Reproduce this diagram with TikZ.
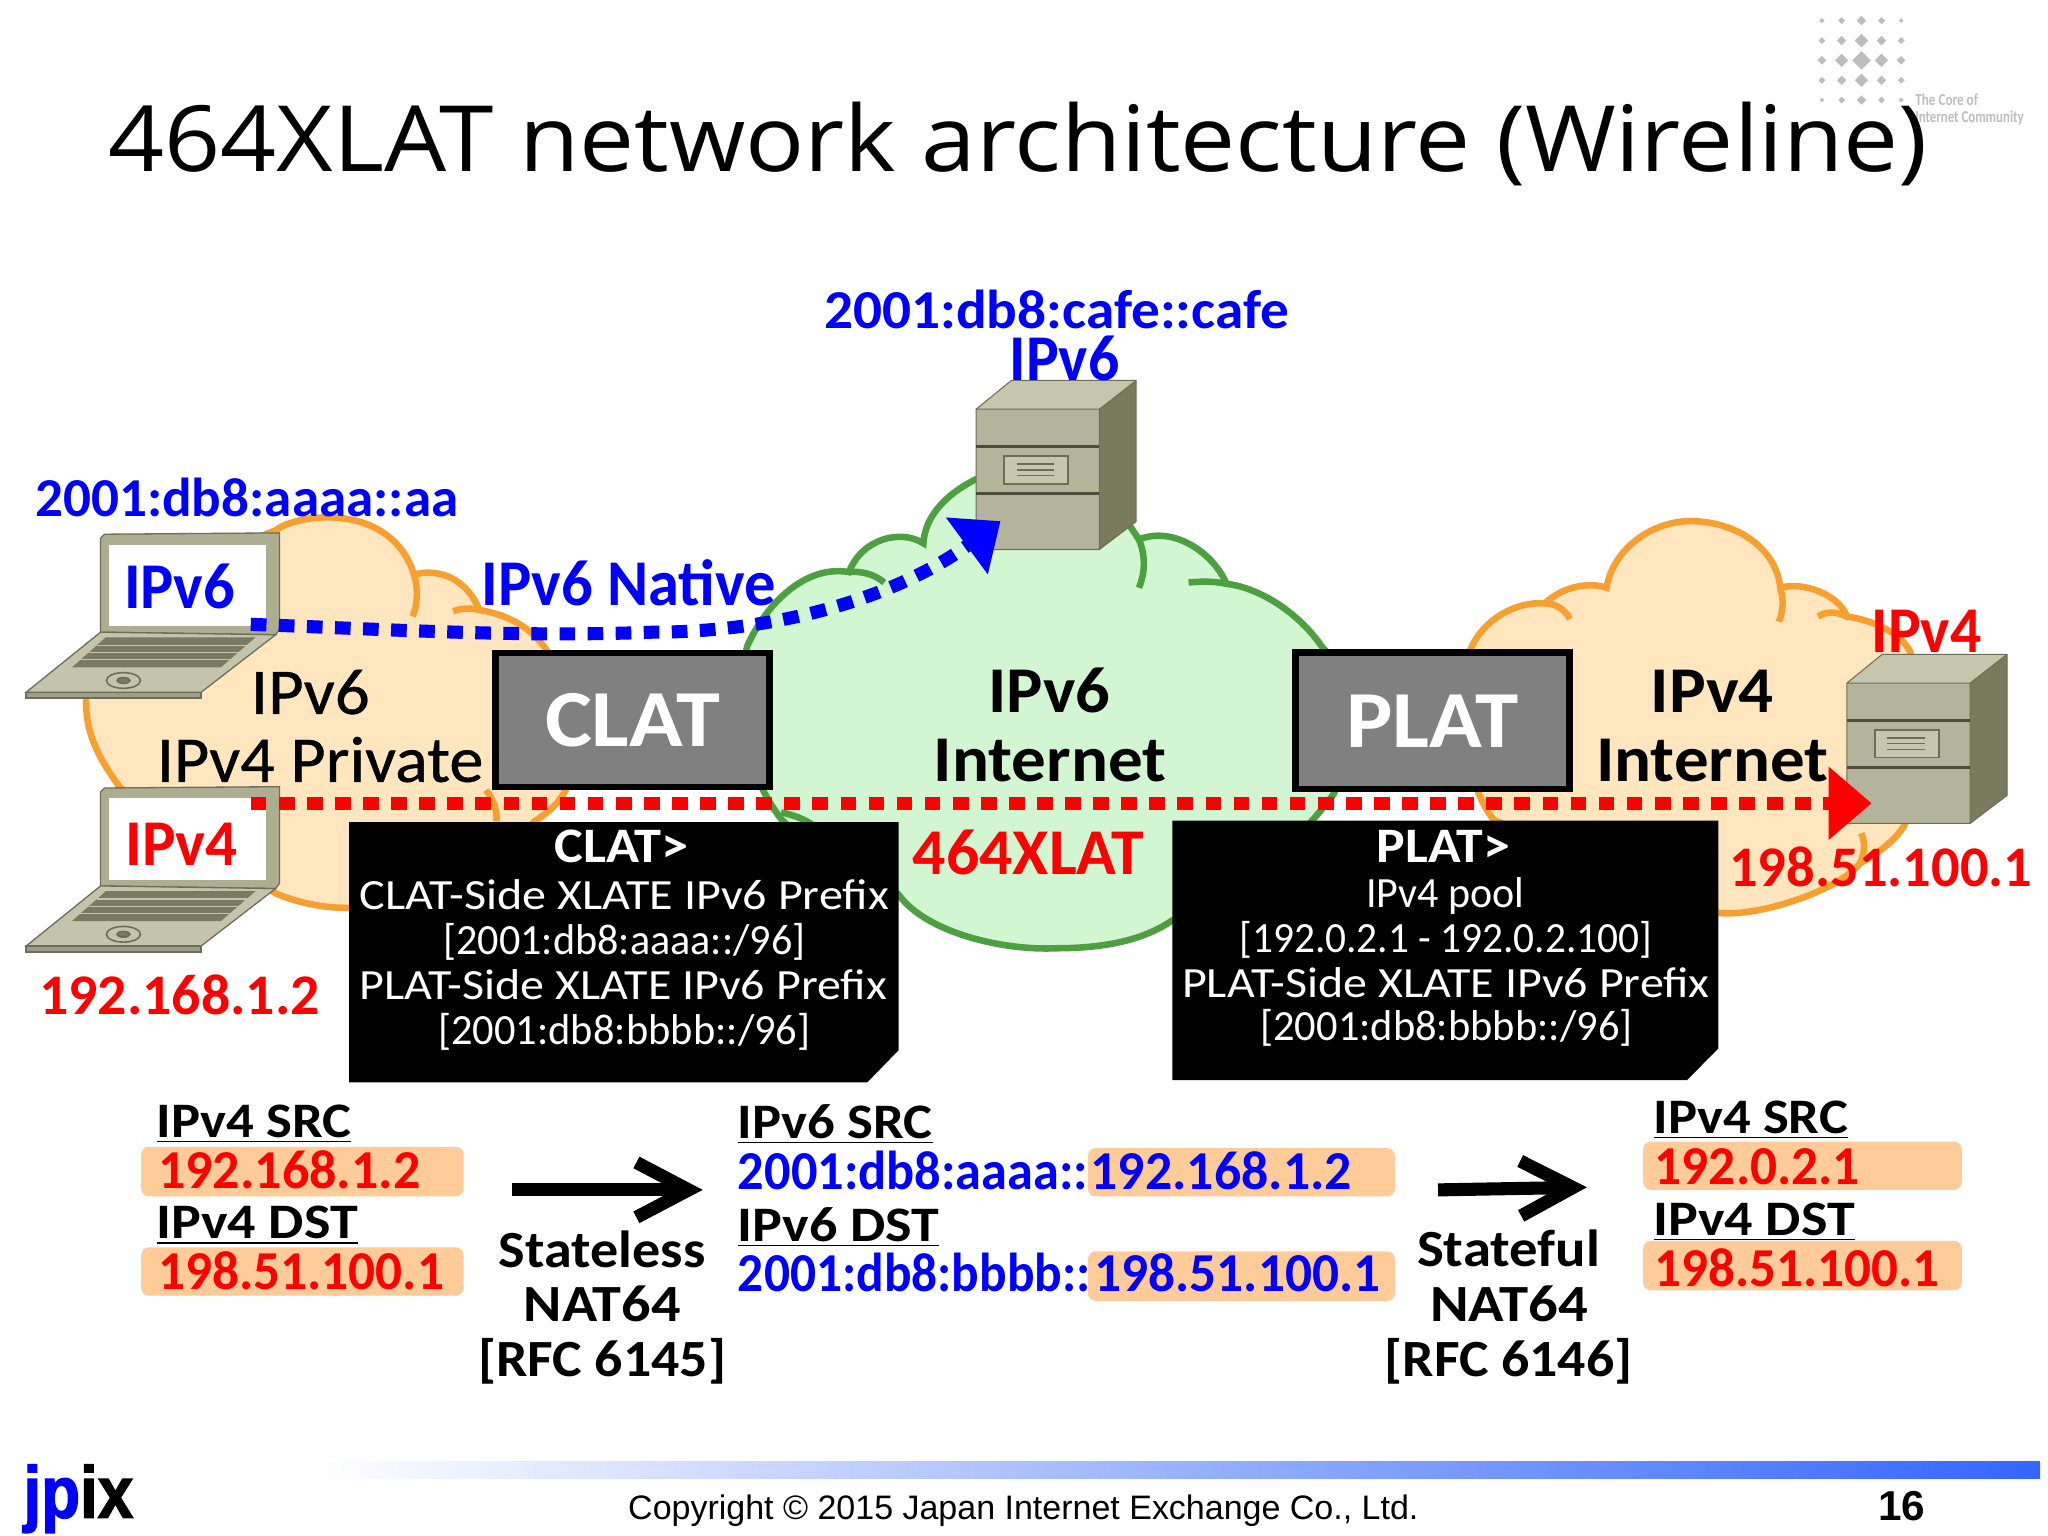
\documentclass[tikz,border=0pt]{standalone}
\usepackage{fontspec}
\usepackage{graphicx}
\setmainfont{Carlito}
\newfontfamily\titlef{Open Sans}
\newfontfamily\arialf{Liberation Sans}
\newfontfamily\medf[FakeBold=0.6]{Carlito}
\newfontfamily\heavyf[FakeBold=2]{Liberation Sans Bold}
\usetikzlibrary{arrows.meta}
\definecolor{cloudO}{HTML}{F7A030}
\definecolor{fillO}{HTML}{FFE6BF}
\definecolor{cloudG}{HTML}{4CA040}
\definecolor{fillG}{HTML}{D2F5D2}
\definecolor{oboxc}{HTML}{FFCC99}
\definecolor{lidc}{HTML}{ADAD92}
\definecolor{basec}{HTML}{C4C4AC}
\definecolor{edgec}{HTML}{6E6E58}
\definecolor{keyc}{HTML}{7A7A60}
\definecolor{srvtop}{HTML}{C6C6AE}
\definecolor{srvfront}{HTML}{B4B49C}
\definecolor{srvside}{HTML}{7A7A5E}
\definecolor{logog}{HTML}{BDBDBD}
\definecolor{barc}{HTML}{3366FF}
\newcommand\W[2]{\resizebox{\dimexpr#1pt/2\relax}{\height}{#2}}
\newcommand\dia[3]{\fill[logog] (#1-#3,#2) -- (#1,#2-#3) -- (#1+#3,#2) -- (#1,#2+#3) -- cycle;}
\tikzset{
  x=0.5pt,y=-0.5pt,
  lab/.style={anchor=base,inner sep=0pt,outer sep=0pt,yshift=-0.8pt,font=\fontsize{#1}{#1}\selectfont\bfseries},
  labr/.style={anchor=base,inner sep=0pt,outer sep=0pt,yshift=-0.8pt,font=\fontsize{#1}{#1}\selectfont},
  labm/.style={anchor=base,inner sep=0pt,outer sep=0pt,yshift=-0.8pt,font=\fontsize{#1}{#1}\selectfont\medf},
  lefty/.style={anchor=base west},
  cloudo/.style={fill=fillO,draw=cloudO,line width=2.5pt},
  cloudg/.style={fill=fillG,draw=cloudG,line width=2.5pt},
  inno/.style={draw=cloudO,line width=2.5pt,fill=none},
  inng/.style={draw=cloudG,line width=2.5pt,fill=none},
  gate/.style={draw=black,line width=2.5pt,fill=gray!100!black,text=white,inner sep=0pt,
     font=\fontsize{31}{31}\selectfont\bfseries},
  dotline/.style={line width=5pt,dash pattern=on 6pt off 4.75pt},
  bigarrow/.style={line width=5pt,-{Straight Barb[length=20pt,width=21pt]}},
  obox/.style={fill=oboxc,rounded corners=3pt},
  laptop/.pic={
    \draw[fill=lidc,draw=edgec,line width=.5pt] (0,2) -- (3,-1) -- (137,-2) -- (137,72) -- (134,76) -- (0,74) -- cycle;
    \fill[white] (6.5,7) rectangle (127,69.5);
    \draw[fill=basec,draw=edgec,line width=.5pt] (0,74) -- (134,76) -- (77,120) -- (-57,120) -- cycle;
    \draw[fill=basec!80!black,draw=edgec,line width=.5pt] (-57,120) -- (77,120) -- (77,124.5) -- (-57,124.5) -- cycle;
    \draw[fill=keyc,draw=none] (4,78) -- (118.6,78) -- (92,101) -- (-22,101) -- cycle;
    \draw[basec,line width=.5pt] (-3,84) -- (112,84) (-9,89.5) -- (106,89.5) (-16,95) -- (99,95);
    \draw[edgec,line width=.6pt] (17.5,111) ellipse (13 and 6);
    \draw[edgec,line width=.6pt,fill=keyc] (17.5,111) ellipse (5 and 2.2);
  },
  server/.pic={
    \fill[srvtop] (0,0) -- (27,-22) -- (122.6,-22) -- (94.4,0) -- cycle;
    \fill[srvfront] (0,0) rectangle (94.4,107.4);
    \fill[srvside] (94.4,0) -- (122.6,-22) -- (122.6,86) -- (94.4,107.4) -- cycle;
    \draw[edgec,line width=.4pt] (0,0) -- (27,-22) -- (122.6,-22) -- (122.6,86) -- (94.4,107.4) -- (0,107.4) -- cycle
      (0,0) -- (94.4,0) -- (122.6,-22) (94.4,0) -- (94.4,107.4);
    \draw[edgec!70!black,line width=.9pt] (0,28.5) -- (94.4,28.5) (0,64.5) -- (94.4,64.5);
    \draw[edgec,line width=.7pt,fill=srvtop] (21.5,36) rectangle (70.5,57);
    \draw[edgec,line width=.5pt] (31,42) -- (60,42) (31,46.5) -- (60,46.5) (31,51) -- (60,51);
  },
}
\begin{document}
\begin{tikzpicture}
\useasboundingbox (0,0) rectangle (1568,1176);
\fill[white] (0,0) rectangle (1568,1176);
% logo
\dia{1394.9}{15.8}{2}\dia{1410}{15.8}{2.6}\dia{1425.2}{15.8}{3.6}\dia{1440.5}{15.8}{2.6}\dia{1455.6}{15.8}{1.8}
\dia{1394.9}{31.1}{2.6}\dia{1410}{31.1}{3.6}\dia{1425.2}{31.1}{5.1}\dia{1440.5}{31.1}{3.6}\dia{1455.6}{31.1}{2.6}
\dia{1394.9}{46.2}{3.3}\dia{1410}{46.2}{5.1}\dia{1425.2}{46.2}{7.1}\dia{1440.5}{46.2}{5.1}\dia{1455.6}{46.2}{3.3}
\dia{1394.9}{61.5}{2.6}\dia{1410}{61.5}{3.6}\dia{1425.2}{61.5}{5.1}\dia{1440.5}{61.5}{3.6}\dia{1455.6}{61.5}{2.6}
\dia{1394.9}{76.6}{1.8}\dia{1410}{76.6}{2.6}\dia{1425.2}{76.6}{3.6}\dia{1440.5}{76.6}{2.6}\dia{1455.6}{76.6}{1.8}
\node (core1) [anchor=base west,inner sep=0pt,font=\fontsize{6.4}{6.4}\selectfont\bfseries,text=logog] at (1466,81) {\W{48}{The Core of}};
\node (core2) [anchor=base west,inner sep=0pt,font=\fontsize{6.4}{6.4}\selectfont\bfseries,text=logog] at (1466,94) {\W{83}{Internet Community}};
% title
\node (title) [anchor=base,inner sep=0pt,font=\fontsize{35}{35}\selectfont\titlef] at (779.5,131) {\W{1393}{464XLAT network architecture (Wireline)}};
% clouds
\path[cloudo] (211,406) .. controls (230,392) and (300,385) .. (317,440)
  .. controls (330,436) and (355,438) .. (367,467)
  .. controls (385,470) and (405,478) .. (418,497)
  .. controls (440,530) and (445,580) .. (433,605)
  .. controls (428,615) and (420,622) .. (409,629)
  .. controls (370,680) and (300,698) .. (263,695)
  .. controls (245,695) and (225,690) .. (211,684)
  -- (92,603)
  .. controls (75,580) and (65,560) .. (66,535)
  .. controls (66,500) and (100,450) .. (211,406) -- cycle;
\path[inno] (317,440) .. controls (320,450) and (320,462) .. (316,472);
\path[inno] (367,467) .. controls (360,465) and (352,466) .. (347,468);
\path[inno] (372,605) .. controls (378,612) and (381,622) .. (380,629);
\path[cloudo] (1126,497) .. controls (1135,475) and (1160,460) .. (1183,462)
  .. controls (1195,450) and (1215,445) .. (1230,450)
  .. controls (1235,420) and (1265,399) .. (1294,399)
  .. controls (1330,399) and (1360,420) .. (1363,450)
  .. controls (1380,445) and (1408,455) .. (1414,472)
  .. controls (1435,475) and (1455,485) .. (1462,498)
  -- (1480,560) -- (1458,632)
  .. controls (1450,645) and (1435,655) .. (1424,661)
  .. controls (1410,680) and (1350,702) .. (1316,699)
  -- (1144,628)
  .. controls (1120,600) and (1115,530) .. (1126,497) -- cycle;
\path[inno] (1183,462) .. controls (1190,462) and (1198,466) .. (1202,474);
\path[inno] (1363,450) .. controls (1366,460) and (1365,468) .. (1362,476);
\path[inno] (1414,472) .. controls (1405,468) and (1398,468) .. (1392,472);
\path[inno] (1424,661) .. controls (1428,652) and (1428,645) .. (1425,638);
\path[cloudg] (747,367) .. controls (725,378) and (708,395) .. (707,416)
  .. controls (690,405) and (660,412) .. (650,438)
  .. controls (615,432) and (585,465) .. (572,495)
  .. controls (560,540) and (570,590) .. (598,627)
  .. controls (620,650) and (660,660) .. (688,685)
  .. controls (710,715) and (770,728) .. (809,726)
  .. controls (845,726) and (875,720) .. (897,705)
  .. controls (950,680) and (990,650) .. (1021,608)
  .. controls (1040,570) and (1035,520) .. (1012,495)
  .. controls (995,470) and (965,450) .. (939,447)
  .. controls (930,425) and (900,402) .. (872,413)
  -- (850,380) -- cycle;
\path[inng] (872,413) .. controls (877,425) and (877,438) .. (872,450);
\path[inng] (939,447) .. controls (930,445) and (920,445) .. (910,446);
\path[inng] (650,438) .. controls (660,437) and (670,440) .. (677,446);
\path[inng] (598,622) .. controls (608,624) and (618,628) .. (624,633);
% note boxes
\fill[black] (267.3,629.4) -- (688,629.4) -- (688,804) -- (664,828.7) -- (267.3,828.7) -- cycle;
\fill[black] (897.5,628.3) -- (1315.7,628.3) -- (1315.7,802.6) -- (1291.7,826.9) -- (897.5,826.9) -- cycle;
% devices
\pic at (77,410) {laptop};
\pic at (77,604.3) {laptop};
\pic at (747.3,313.3) {server};
\pic at (1414,523) {server};
% gates
\node (clat) [gate,minimum width=105pt,minimum height=51.2pt] at (484.3,551.3) {\W{134}{CLAT}};
\node (plat) [gate,minimum width=104.9pt,minimum height=52.25pt] at (1096.8,552) {\W{132}{PLAT}};
% connectors
\coordinate (pcA) at (192,478);
\coordinate (srvA) at (766,399);
\coordinate (pcB) at (192,615);
\coordinate (srvB) at (1433,615);
\draw[blue,dotline,-{Triangle[length=16pt,width=26pt]}] (pcA) .. controls (300,482) and (400,488) .. (500,484) .. controls (600,484) and (690,455) .. (srvA);
\draw[red,dotline,-{Triangle[length=16.5pt,width=27pt]}] (pcB) -- (srvB);
% labels
\node (addrA) [lab=21,text=blue] at (189,394) {\W{324}{2001:db8:aaaa::aa}};
\node (lap6) [lab=25,text=blue] at (137.5,464) {\W{85}{IPv6}};
\node (lap4) [lab=25,text=red] at (139,661) {\W{86}{IPv4}};
\node (addrB) [lab=22,text=red] at (137.5,775) {\W{215}{192.168.1.2}};
\node (nat) [lab=25,text=blue] at (481.5,462) {\W{225}{IPv6 Native}};
\node (pv6) [labm=25] at (237.5,545) {\W{91}{IPv6}};
\node (pv4) [labm=25] at (245,597) {\W{250}{IPv4 Private}};
\node (addrC) [lab=21,text=blue] at (809,250) {\W{356}{2001:db8:cafe::cafe}};
\node (srv6) [lab=25,text=blue] at (815,290) {\W{84}{IPv6}};
\node (net6a) [lab=25] at (803.5,544) {\W{93}{IPv6}};
\node (net6b) [lab=25] at (804,596.6) {\W{178}{Internet}};
\node (net4a) [lab=25] at (1311,544) {\W{94}{IPv4}};
\node (net4b) [lab=25] at (1311,596.6) {\W{178}{Internet}};
\node (srv4) [lab=25,text=red] at (1475,498) {\W{84}{IPv4}};
\node (addrD) [lab=22,text=red] at (1440,677) {\W{232}{198.51.100.1}};
\node (xlat) [lab=25,text=red] at (787.5,668) {\W{177}{464XLAT}};
% note text
\node (nL0) [lab=19,text=white] at (476,659) {\W{103}{CLAT>}};
\node (nL1) [labr=16.5,text=white] at (478,695) {\W{405}{CLAT-Side XLATE IPv6 Prefix}};
\node (nL2) [labr=16.5,text=white] at (478,729) {\W{277}{[2001:db8:aaaa::/96]}};
\node (nL3) [labr=16.5,text=white] at (477,763.7) {\W{404}{PLAT-Side XLATE IPv6 Prefix}};
\node (nL4) [labr=16.5,text=white] at (478,798) {\W{285}{[2001:db8:bbbb::/96]}};
\node (nR0) [lab=19,text=white] at (1105,658.7) {\W{102}{PLAT>}};
\node (nR1) [labr=16.5,text=white] at (1106.5,693) {\W{121}{IPv4 pool}};
\node (nR2) [labr=16.5,text=white] at (1107,727.5) {\W{316}{[192.0.2.1 - 192.0.2.100]}};
\node (nR3) [labr=16.5,text=white] at (1107,762) {\W{404}{PLAT-Side XLATE IPv6 Prefix}};
\node (nR4) [labr=16.5,text=white] at (1107.5,795) {\W{285}{[2001:db8:bbbb::/96]}};
% bottom left column
\path[obox] (108,878) rectangle (355,916);
\path[obox] (108,955) rectangle (355,992);
\node (a1) [lab=19,lefty] at (120,869) {\W{149}{\underline{IPv4 SRC}}};
\node (a2) [lab=21,lefty,text=red] at (121,908) {\W{201}{192.168.1.2}};
\node (a3) [lab=19,lefty] at (120,947) {\W{154}{\underline{IPv4 DST}}};
\node (a4) [lab=21,lefty,text=red] at (121,986) {\W{219}{198.51.100.1}};
% bottom middle column
\path[obox] (833,879) rectangle (1068,916);
\path[obox] (833,958) rectangle (1068,996);
\node (b1) [lab=19,lefty] at (565,870) {\W{149}{\underline{IPv6 SRC}}};
\node (b2) [lab=21,lefty,text=blue] at (565,909) {\W{268}{2001:db8:aaaa::}};
\node (b3) [lab=21,lefty,text=blue] at (835,909) {\W{200}{192.168.1.2}};
\node (b4) [lab=19,lefty] at (565,949) {\W{154}{\underline{IPv6 DST}}};
\node (b5) [lab=21,lefty,text=blue] at (565,987) {\W{270}{2001:db8:bbbb::}};
\node (b6) [lab=21,lefty,text=blue] at (838,987) {\W{219}{198.51.100.1}};
% bottom right column
\path[obox] (1258,874) rectangle (1502,911);
\path[obox] (1258,950) rectangle (1502,988);
\node (c1) [lab=19,lefty] at (1266,866) {\W{149}{\underline{IPv4 SRC}}};
\node (c2) [lab=21,lefty,text=red] at (1267,905) {\W{157}{192.0.2.1}};
\node (c3) [lab=19,lefty] at (1266,944) {\W{154}{\underline{IPv4 DST}}};
\node (c4) [lab=21,lefty,text=red] at (1267,983) {\W{218}{198.51.100.1}};
% translators
\node (s1) [lab=20] at (461,969) {\W{158}{Stateless}};
\node (s2) [lab=20] at (461,1010) {\W{120}{NAT64}};
\node (s3) [lab=20] at (461,1052) {\W{190}{[RFC 6145]}};
\node (t1) [lab=20] at (1155,968) {\W{140}{Stateful}};
\node (t2) [lab=20] at (1155.5,1010) {\W{121}{NAT64}};
\node (t3) [lab=20] at (1155,1052) {\W{190}{[RFC 6146]}};
\coordinate (arA0) at (392,911);
\coordinate (arA1) at (538,911);
\coordinate (arB0) at (1101,911);
\coordinate (arB1) at (1215,909);
\draw[bigarrow] (arA0) -- (arA1);
\draw[bigarrow] (arB0) -- (arB1);
% footer
\shade[left color=white,right color=barc] (240,1119) rectangle (1562,1132);
\node (jp) [anchor=base,inner sep=0pt,font=\fontsize{28}{28}\selectfont\heavyf] at (60,1162) {\W{84}{\textcolor{blue}{jp}ix}};
\node (copy) [anchor=base,inner sep=0pt,font=\fontsize{13}{13}\selectfont\arialf] at (783.5,1163) {\W{605}{Copyright © 2015 Japan Internet Exchange Co., Ltd.}};
\node (pg) [anchor=base,inner sep=0pt,font=\fontsize{16}{16}\selectfont\arialf\bfseries] at (1456,1164) {\W{36}{16}};
\end{tikzpicture}
\end{document}
